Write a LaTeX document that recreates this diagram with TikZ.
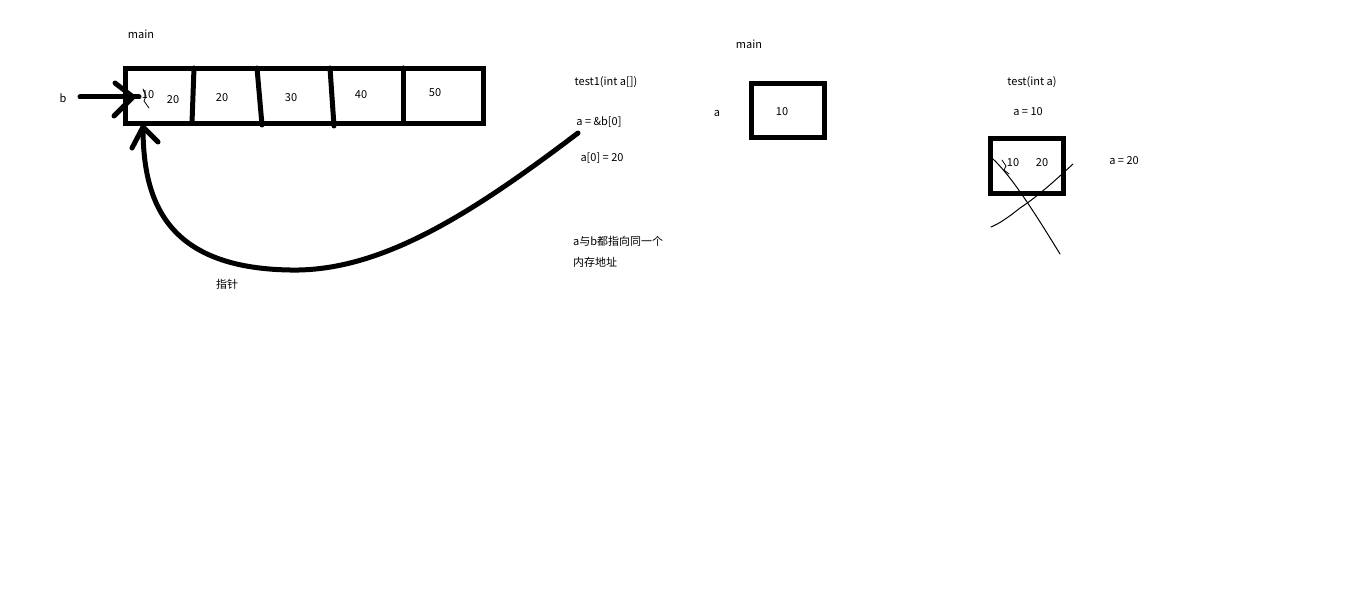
\documentclass[tikz,border=0pt]{standalone}
\usepackage{fontspec}
\setmainfont{Noto Sans CJK SC}
\usetikzlibrary{arrows.meta}
\begin{document}
\begin{tikzpicture}[x=1pt,y=-1pt,
  lbl/.style={font=\fontsize{11}{13}\selectfont, inner sep=0pt, anchor=center},
  lbll/.style={lbl, anchor=west},
  thickbox/.style={draw, line width=5pt, rectangle, inner sep=0pt},
  thickline/.style={line width=5pt, line cap=round, line join=round},
  thinline/.style={line width=1pt, line cap=round}]
\useasboundingbox[fill=white] (0,0) rectangle (1360,604);

% ---------- left: main array ----------
\node[lbl] (main1) at (141,34) {main};
\node[thickbox, minimum width=358pt, minimum height=55pt] (arr) at (304.5,96) {};
\draw[thickline] (194,68) -- (192,123);
\draw[thickline] (257,68) -- (262,125);
\draw[thickline] (330,68) -- (334,126);
\draw[thickline] (403,68) -- (403,123);
\node[lbl] (c0old) at (148,95) {10};
\draw[thinline, line width=0.8pt] (143,89) -- (146,96) -- (144,101) -- (149,108);
\node[lbl] (c0) at (173,100) {20};
\node[lbl] (c1) at (222,98) {20};
\node[lbl] (c2) at (291,98) {30};
\node[lbl] (c3) at (361,95) {40};
\node[lbl] (c4) at (435,93) {50};

\node[lbl] (b) at (63,98) {b};
\coordinate (bstart) at (80,97);
\coordinate (btip) at (139,97);
\draw[thickline] (bstart) -- (btip);
\draw[thickline] (115,83) -- (133,97) -- (114,116);

% curved pointer
\coordinate (pstart) at (578,133);
\coordinate (pbottom) at (290,270);
\coordinate (ptip) at (143,127);
\draw[thickline] (pstart) .. controls (470,215) and (380,272) .. (pbottom)
  .. controls (165,268) and (143,200) .. (ptip);
\draw[thickline] (132,148) -- (143,127) -- (158,142);
\node[lbl] (zz) at (227,284) {指针};

% texts of test1
\node[lbl] (t1) at (606,82) {test1(int a[])};
\node[lbl] (t2) at (599,122) {a = \&b[0]};
\node[lbl] (t3) at (602,158) {a[0] = 20};
\node[lbll] (t4) at (573,241) {a与b都指向同一个};
\node[lbll] (t5) at (573,262) {内存地址};

% ---------- middle ----------
\node[lbl] (main2) at (749,44) {main};
\node[lbl] (ma) at (717,114) {a};
\node[thickbox, minimum width=73pt, minimum height=54pt] (mbox) at (787.5,110.5) {};
\node[lbl] (m10) at (782,112) {10};

% ---------- right ----------
\node[lbl] (t6) at (1032,82) {test(int a)};
\node[lbl] (t7) at (1028,112) {a = 10};
\node[thickbox, minimum width=73pt, minimum height=55pt] (rbox) at (1027,166.5) {};
\node[lbl] (r10) at (1013,163) {10};
\node[lbl] (r20) at (1042,163) {20};
\node[lbl] (t8) at (1124,161) {a = 20};
\draw[thinline, line width=0.8pt] (1002,160) -- (1006,166) -- (1004,170) -- (1009,174);
\draw[thinline] (993,159) .. controls (1010,175) and (1030,205) .. (1060,254);
\draw[thinline] (1073,164) .. controls (1062,174) and (1040,195) .. (1020,208)
  .. controls (1005,220) and (998,224) .. (991,227);
\end{tikzpicture}
\end{document}
